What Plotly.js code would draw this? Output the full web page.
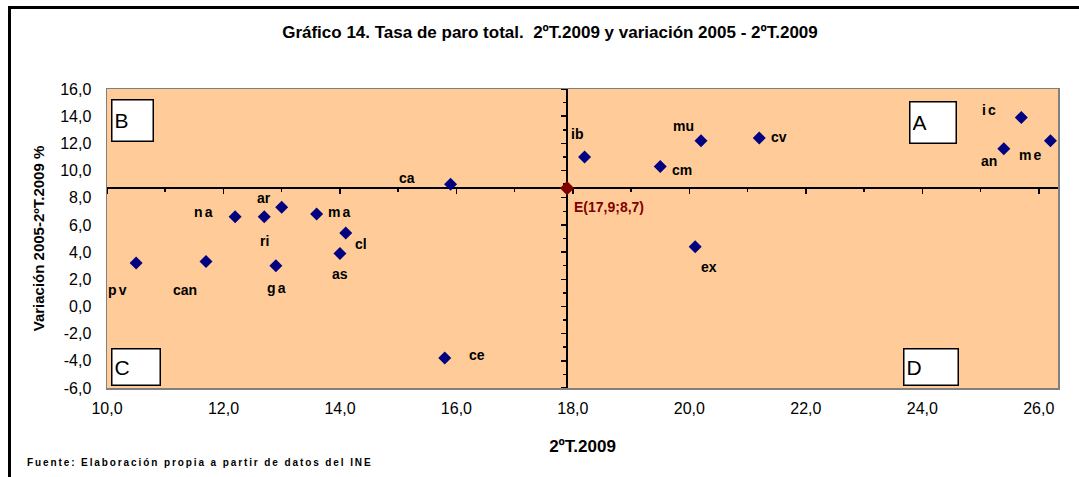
<!DOCTYPE html>
<html>
<head>
<meta charset="utf-8">
<script src="https://cdn.plot.ly/plotly-3.0.1.min.js"></script>
<style>
  html, body { margin:0; padding:0; background:#fff; }
  #wrap { position:relative; width:1079px; height:477px; }
  #chart { position:absolute; left:0; top:0; width:1079px; height:477px; }
  #frame { position:absolute; left:8px; top:6px; right:0; bottom:0; border-top:3px solid #000; border-left:3px solid #000; pointer-events:none; }
</style>
</head>
<body>
<div id="wrap"><div id="chart"></div><div id="frame"></div></div>
<script>
// ---- Data ----
const regions = ["pv","can","na","ri","ar","ga","ma","cl","as","ca","ce","ib","cm","mu","ex","cv","an","ic","me"];
const paro2T2009 = [10.5, 11.7, 12.2, 12.7, 13.0, 12.9, 13.6, 14.1, 14.0, 15.9, 15.8, 18.2, 19.5, 20.2, 20.1, 21.2, 25.4, 25.7, 26.2];
const variacion = [3.2, 3.3, 6.6, 6.6, 7.3, 3.0, 6.8, 5.4, 3.9, 9.0, -3.8, 11.0, 10.3, 12.2, 4.4, 12.4, 11.6, 13.9, 12.2];
const centroX = 17.9;
const centroY = 8.7;
const centroLabel = "E(17,9;8,7)";
const xTickVals = [10, 12, 14, 16, 18, 20, 22, 24, 26];
const yTickVals = [-6, -4, -2, 0, 2, 4, 6, 8, 10, 12, 14, 16];
const quadrantNames = ["A", "B", "C", "D"];
const fmt = v => v.toFixed(1).replace('.', ',');
const xTickText = xTickVals.map(fmt);
const yTickText = yTickVals.map(fmt);

// ---- Style / positioning (not data) ----
const labelOffsets = { // pixel offsets of the label centre from the point [dx, dy(down)]
  pv:[-18,27], can:[-21,28], na:[-31,-5], ri:[0,24], ar:[-18,-9], ga:[2,22], ma:[23,-2],
  cl:[15,11], as:[0,21], ca:[-44,-6], ce:[32,-3], ib:[-8,-23], cm:[22,4], mu:[-18,-15],
  ex:[14,20], cv:[20,-1], an:[-15,12], ic:[-31,-8], me:[-19,14]
};
const spaced = { pv:1, na:1, ga:1, ma:1, ic:1, me:1 };
const xRange = [10, 26.33];
const yRange = [-6, 16];
const FONT = "Liberation Sans, Arial, sans-serif";

const traces = [
  { type:'scatter', mode:'markers', x:paro2T2009, y:variacion, text:regions,
    marker:{ symbol:'diamond', size:10, color:'#000080' }, hoverinfo:'text+x+y', showlegend:false },
  { type:'scatter', mode:'markers', x:[centroX], y:[centroY], xaxis:'x2', yaxis:'y2',
    marker:{ symbol:'diamond', size:11, color:'#800000' }, showlegend:false }
];

const annotations = regions.map((r, i) => ({
  x: paro2T2009[i], y: variacion[i], xref:'x', yref:'y', text: r, showarrow:false,
  xanchor:'center', yanchor:'middle', xshift: labelOffsets[r][0], yshift: -labelOffsets[r][1],
  font:{ family:FONT, size:14, color:'#000', weight:'bold' }
}));
annotations.push({
  x: centroX, y: centroY, xref:'x', yref:'y', text: centroLabel, showarrow:false,
  xanchor:'center', yanchor:'middle', xshift:42, yshift:-19,
  font:{ family:FONT, size:14, color:'#800000', weight:'bold' }
});
// quadrant boxes
const quadPos = {
  A:{x:0.8433, y:0.9599, ya:'top', w:41, h:36},
  B:{x:0.0042, y:0.9666, ya:'top', w:36, h:36},
  C:{x:0.0042, y:0.0067, ya:'bottom', w:43, h:31},
  D:{x:0.837, y:0.0067, ya:'bottom', w:49, h:31}
};
quadrantNames.forEach(q => {
  const p = quadPos[q];
  annotations.push({ xref:'paper', yref:'paper', x:p.x, y:p.y, xanchor:'left', yanchor:p.ya,
    text:q, showarrow:false, align:'left', valign:'middle', width:p.w, height:p.h,
    bgcolor:'#ffffff', bordercolor:'#000000', borderwidth:1.5, borderpad:2,
    font:{ family:FONT, size:21, color:'#000' } });
});
annotations.push({
  xref:'paper', yref:'paper', x:-0.0862, y:-0.2508, xanchor:'left', yanchor:'middle',
  text:'Fuente: Elaboración propia a partir de datos del INE', showarrow:false,
  font:{ family:FONT, size:10, color:'#000', weight:'bold' }
});

const layout = {
  width:1079, height:477,
  margin:{ l:107, r:21, t:89, b:89 },
  paper_bgcolor:'#ffffff', plot_bgcolor:'#FFCC99',
  font:{ family:FONT, color:'#000' },
  title:{ text:'Gráfico 14. Tasa de paro total.  2ºT.2009 y variación 2005 - 2ºT.2009',
    x:0.5097, xref:'container', xanchor:'center', y:0.933, yanchor:'middle',
    font:{ family:FONT, size:17, weight:'bold', color:'#000' } },
  xaxis:{ range:xRange, tickvals:xTickVals, ticktext:xTickText, showgrid:false, zeroline:false,
    showline:true, mirror:true, linecolor:'#808080', linewidth:1.5,
    ticks:'outside', ticklen:5, tickcolor:'rgba(0,0,0,0)',
    tickfont:{ family:FONT, size:16, color:'#000' },
    title:{ text:'2ºT.2009', standoff:24, font:{ family:FONT, size:17, weight:'bold', color:'#000' } } },
  yaxis:{ range:yRange, tickvals:yTickVals, ticktext:yTickText, showgrid:false, zeroline:false,
    showline:true, mirror:true, linecolor:'#808080', linewidth:1.5,
    ticks:'outside', ticklen:11, tickcolor:'rgba(0,0,0,0)',
    tickfont:{ family:FONT, size:16, color:'#000' },
    title:{ text:'Variación 2005-2ºT.2009 %', standoff:12, font:{ family:FONT, size:15, weight:'bold', color:'#000' } } },
  xaxis2:{ overlaying:'x', anchor:'free', position:(centroY - yRange[0]) / (yRange[1] - yRange[0]),
    range:xRange, showgrid:false, zeroline:false, showline:true, linecolor:'#000', linewidth:2,
    showticklabels:false, ticks:'outside', ticklen:5, tickwidth:1.5, tickcolor:'#000',
    tick0:10, dtick:2, layer:'below traces',
    minor:{ ticks:'outside', ticklen:3, tickcolor:'#000', dtick:1, tick0:10, showgrid:false } },
  yaxis2:{ overlaying:'y', anchor:'free', position:(centroX - xRange[0]) / (xRange[1] - xRange[0]),
    range:yRange, showgrid:false, zeroline:false, showline:true, linecolor:'#000', linewidth:2,
    showticklabels:false, ticks:'outside', ticklen:5, tickwidth:1.5, tickcolor:'#000',
    tick0:-6, dtick:2, layer:'below traces',
    minor:{ ticks:'outside', ticklen:3, tickcolor:'#000', dtick:1, tick0:-6, showgrid:false } },
  annotations:annotations,
  showlegend:false
};

Plotly.newPlot('chart', traces, layout, { displayModeBar:false, staticPlot:true }).then(() => {
  document.querySelectorAll('#chart .annotation-text').forEach(t => {
    const s = t.textContent;
    let sp = null, keepLeft = false;
    if (s.indexOf('Fuente') === 0) { sp = '1.9px'; keepLeft = true; }
    else if (spaced[s]) sp = '2px';
    if (!sp) return;
    const before = t.getBBox();
    t.style.letterSpacing = sp;
    const after = t.getBBox();
    const dx = keepLeft ? (before.x - after.x) : ((before.x + before.width / 2) - (after.x + after.width / 2));
    t.setAttribute('transform', 'translate(' + dx + ',0)');
  });
});
</script>
</body>
</html>
